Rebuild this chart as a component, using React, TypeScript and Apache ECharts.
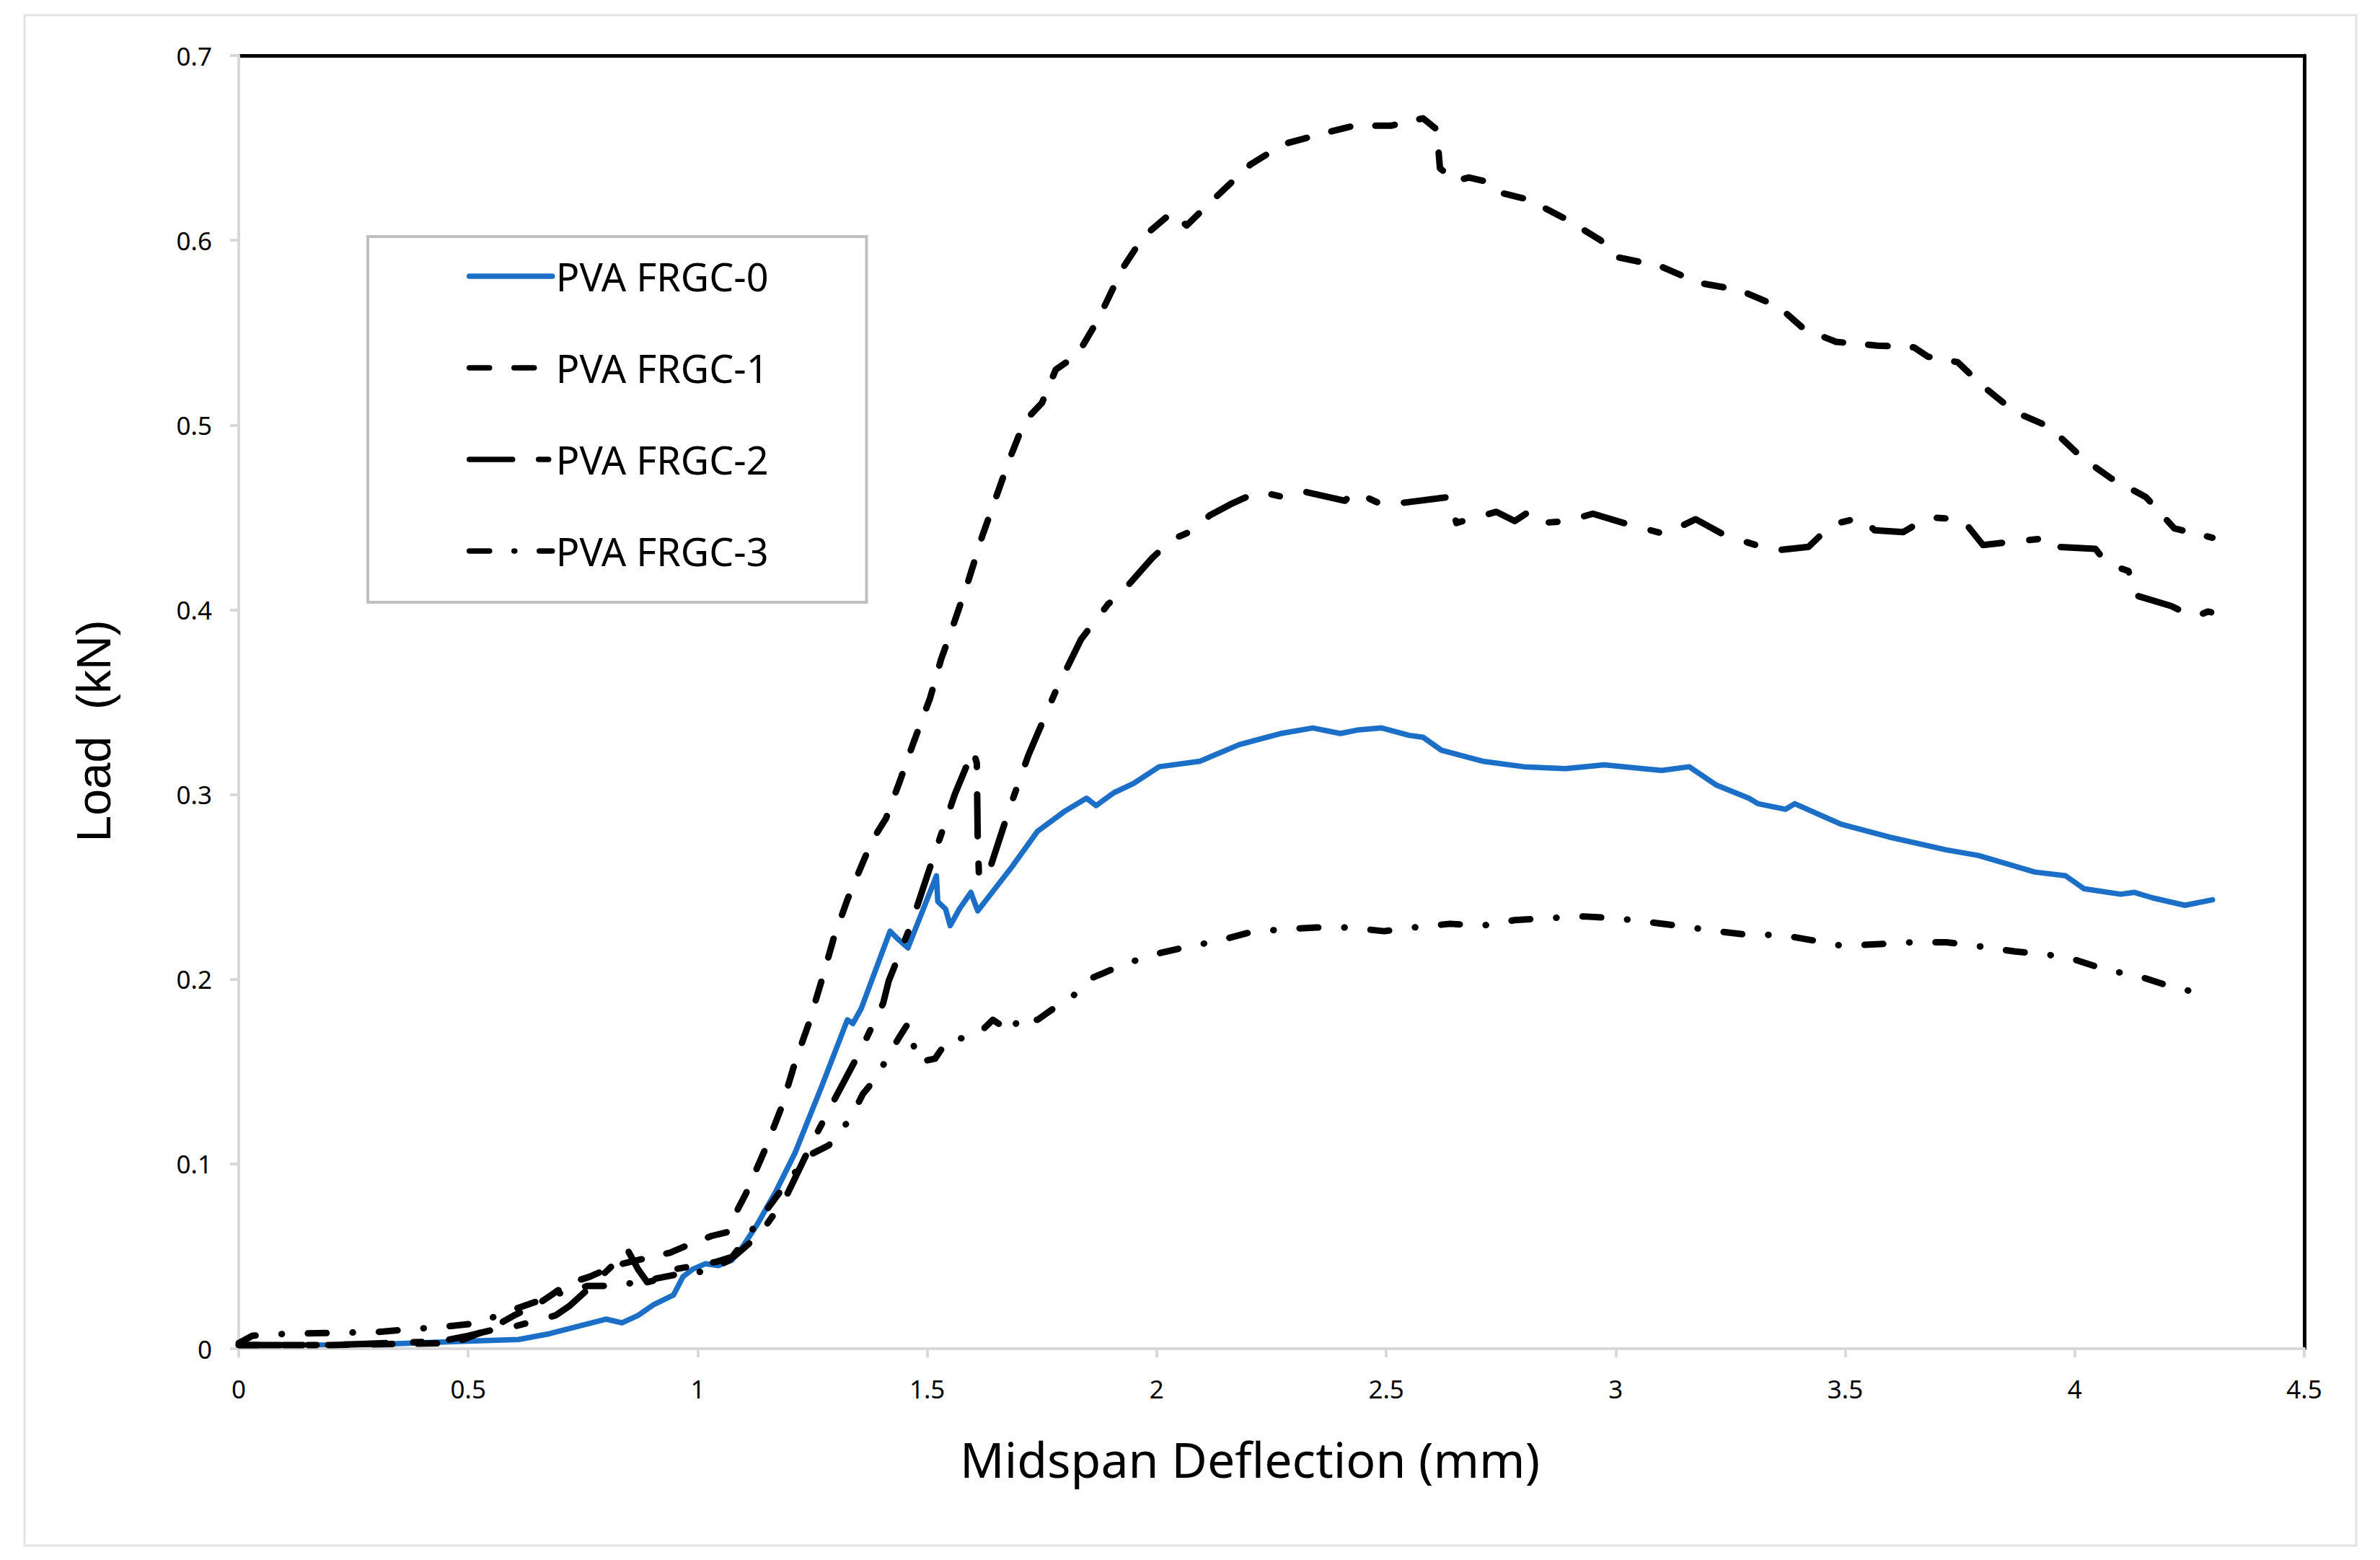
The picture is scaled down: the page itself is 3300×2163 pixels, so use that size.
import React, { useEffect, useRef } from "react";
import * as echarts from "echarts";

const seriesNames = ["PVA FRGC-0", "PVA FRGC-1", "PVA FRGC-2", "PVA FRGC-3"];
const xTicks = { min: 0, max: 4.5, interval: 0.5 };
const yTicks = { min: 0, max: 0.7, interval: 0.1 };

const frgc0: [number, number][] = [
  [0, 0.002], [0.26, 0.002], [0.49, 0.004], [0.61, 0.005], [0.675, 0.008], [0.737, 0.012], [0.8, 0.016],
  [0.835, 0.014], [0.87, 0.018], [0.905, 0.024], [0.947, 0.029], [0.968, 0.039], [0.989, 0.043], [1.017, 0.046],
  [1.045, 0.045], [1.075, 0.048], [1.1, 0.056], [1.129, 0.067], [1.17, 0.085], [1.212, 0.106], [1.27, 0.142],
  [1.326, 0.178], [1.338, 0.176], [1.356, 0.184], [1.419, 0.226], [1.435, 0.222], [1.458, 0.217], [1.52, 0.256],
  [1.523, 0.242], [1.54, 0.238], [1.55, 0.229], [1.57, 0.238], [1.595, 0.247], [1.61, 0.237], [1.685, 0.261],
  [1.74, 0.28], [1.8, 0.291], [1.847, 0.298], [1.868, 0.294], [1.907, 0.301], [1.95, 0.306], [2.005, 0.315],
  [2.094, 0.318], [2.18, 0.327], [2.27, 0.333], [2.34, 0.336], [2.4, 0.333], [2.44, 0.335], [2.49, 0.336],
  [2.55, 0.332], [2.58, 0.331], [2.62, 0.324], [2.71, 0.318], [2.8, 0.315], [2.89, 0.314], [2.975, 0.316],
  [3.1, 0.313], [3.16, 0.315], [3.22, 0.305], [3.29, 0.298], [3.31, 0.295], [3.37, 0.292], [3.39, 0.295],
  [3.49, 0.284], [3.595, 0.277], [3.72, 0.27], [3.79, 0.267], [3.913, 0.258], [3.98, 0.256], [4.02, 0.249],
  [4.1, 0.246], [4.13, 0.247], [4.17, 0.244], [4.24, 0.24], [4.3, 0.243],
];

const frgc1: [number, number][] = [
  [0, 0.002], [0.2, 0.002], [0.45, 0.003], [0.49, 0.005], [0.55, 0.011], [0.6, 0.018], [0.657, 0.025],
  [0.716, 0.035], [0.765, 0.039], [0.82, 0.045], [0.888, 0.049], [0.94, 0.052], [0.978, 0.056], [1.03, 0.061],
  [1.063, 0.063], [1.08, 0.072], [1.105, 0.084], [1.147, 0.108], [1.183, 0.131], [1.212, 0.155], [1.242, 0.176],
  [1.272, 0.201], [1.296, 0.222], [1.326, 0.243], [1.356, 0.261], [1.38, 0.275], [1.41, 0.287], [1.44, 0.307],
  [1.47, 0.328], [1.506, 0.352], [1.53, 0.373], [1.56, 0.394], [1.59, 0.416], [1.62, 0.44], [1.65, 0.461],
  [1.68, 0.482], [1.712, 0.502], [1.75, 0.512], [1.78, 0.53], [1.827, 0.538], [1.872, 0.557], [1.926, 0.585],
  [1.971, 0.602], [2.033, 0.615], [2.065, 0.608], [2.123, 0.622], [2.204, 0.641], [2.276, 0.652], [2.365, 0.658],
  [2.43, 0.662], [2.51, 0.662], [2.58, 0.666], [2.61, 0.66], [2.617, 0.639], [2.65, 0.632], [2.68, 0.634],
  [2.715, 0.632], [2.745, 0.626], [2.81, 0.622], [2.895, 0.611], [2.967, 0.6], [3.0, 0.591], [3.097, 0.586],
  [3.18, 0.577], [3.27, 0.573], [3.355, 0.564], [3.41, 0.552], [3.48, 0.545], [3.57, 0.543], [3.65, 0.542],
  [3.68, 0.537], [3.745, 0.534], [3.8, 0.521], [3.87, 0.507], [3.945, 0.499], [4.017, 0.482], [4.08, 0.471],
  [4.155, 0.461], [4.217, 0.444], [4.283, 0.44], [4.3, 0.439],
];

const frgc2: [number, number][] = [
  [0, 0.002], [0.2, 0.002], [0.44, 0.004], [0.5, 0.007], [0.55, 0.01], [0.6, 0.012], [0.69, 0.018],
  [0.72, 0.023], [0.76, 0.032], [0.81, 0.044], [0.846, 0.054], [0.87, 0.043], [0.89, 0.036], [0.92, 0.038],
  [0.95, 0.043], [1.04, 0.047], [1.08, 0.05], [1.135, 0.062], [1.19, 0.081], [1.248, 0.111], [1.296, 0.134],
  [1.356, 0.162], [1.404, 0.187], [1.416, 0.199], [1.464, 0.229], [1.512, 0.265], [1.56, 0.3], [1.6, 0.324],
  [1.608, 0.317], [1.61, 0.275], [1.613, 0.254], [1.638, 0.261], [1.68, 0.293], [1.72, 0.321], [1.78, 0.356],
  [1.835, 0.384], [1.894, 0.403], [1.926, 0.41], [1.99, 0.428], [2.033, 0.438], [2.08, 0.443], [2.115, 0.451],
  [2.16, 0.457], [2.222, 0.464], [2.276, 0.461], [2.32, 0.464], [2.41, 0.459], [2.43, 0.464], [2.49, 0.457],
  [2.54, 0.458], [2.635, 0.461], [2.653, 0.447], [2.74, 0.453], [2.78, 0.448], [2.81, 0.453], [2.84, 0.447],
  [2.895, 0.448], [2.95, 0.452], [3.03, 0.446], [3.107, 0.441], [3.174, 0.449], [3.24, 0.44], [3.345, 0.432],
  [3.42, 0.434], [3.47, 0.446], [3.535, 0.45], [3.564, 0.443], [3.626, 0.442], [3.68, 0.45], [3.755, 0.449],
  [3.8, 0.435], [3.87, 0.437], [3.95, 0.439], [3.965, 0.434], [4.045, 0.433], [4.07, 0.425], [4.117, 0.421],
  [4.13, 0.408], [4.21, 0.402], [4.26, 0.396], [4.29, 0.399], [4.31, 0.398],
];

const frgc3: [number, number][] = [
  [0, 0.003], [0.03, 0.007], [0.1, 0.008], [0.3, 0.009], [0.45, 0.012], [0.53, 0.014], [0.57, 0.019],
  [0.62, 0.023], [0.7, 0.03], [0.76, 0.034], [0.814, 0.034], [0.87, 0.036], [0.95, 0.04], [1.02, 0.042],
  [1.07, 0.048], [1.1, 0.058], [1.15, 0.075], [1.2, 0.092], [1.245, 0.105], [1.285, 0.11], [1.31, 0.117],
  [1.338, 0.127], [1.36, 0.138], [1.39, 0.147], [1.416, 0.159], [1.44, 0.169], [1.458, 0.176], [1.48, 0.155],
  [1.517, 0.157], [1.547, 0.168], [1.578, 0.168], [1.614, 0.171], [1.643, 0.178], [1.685, 0.171], [1.7, 0.18],
  [1.74, 0.178], [1.78, 0.185], [1.823, 0.192], [1.862, 0.201], [1.933, 0.2085], [2.004, 0.214], [2.074, 0.218],
  [2.13, 0.2205], [2.198, 0.225], [2.27, 0.227], [2.348, 0.228], [2.42, 0.228], [2.495, 0.226], [2.56, 0.228],
  [2.639, 0.23], [2.71, 0.229], [2.78, 0.232], [2.85, 0.233], [2.93, 0.234], [3.0, 0.233], [3.07, 0.231],
  [3.15, 0.2285], [3.22, 0.226], [3.29, 0.224], [3.36, 0.224], [3.43, 0.221], [3.495, 0.218], [3.575, 0.219],
  [3.646, 0.22], [3.72, 0.22], [3.787, 0.218], [3.87, 0.215], [3.937, 0.2135], [4.0, 0.2106], [4.07, 0.205],
  [4.14, 0.2016], [4.21, 0.196], [4.28, 0.192], [4.29, 0.19],
];

const FONT = "'Noto Sans', 'Open Sans', sans-serif";
const GRAY = "#d9d9d9";

export default function App() {
  const ref = useRef<HTMLDivElement>(null);

  useEffect(() => {
    if (!ref.current) return;
    const chart = echarts.init(ref.current, null, { renderer: "svg" });

    const lineStyles: any[] = [
      { color: "#1b6fc6", width: 7.5, type: "solid", cap: "round", join: "round" },
      { color: "#000000", width: 9, type: [27, 35], cap: "round", join: "round" },
      { color: "#000000", width: 9, type: [58, 38, 12, 38], cap: "round", join: "round" },
      { color: "#000000", width: 9, type: [26, 36, 0.5, 36], cap: "round", join: "round" },
    ];
    const legendDash: any[] = ["solid", [28, 34], [60, 36, 14, 36], [28, 34, 1, 34]];
    const datasets = [frgc0, frgc1, frgc2, frgc3];

    const option: any = {
      animation: false,
      backgroundColor: "#ffffff",
      graphic: [
        {
          type: "rect",
          shape: { x: 34, y: 21, width: 3233, height: 2122 },
          style: { fill: "none", stroke: "#e3e3e3", lineWidth: 3 },
          silent: true,
          z: -1,
        },
      ],
      grid: { left: 331, right: 105, top: 77, bottom: 293, show: false },
      legend: {
        orient: "vertical",
        left: 510,
        top: 328,
        padding: [25, 136, 41, 137],
        itemWidth: 115,
        itemHeight: 60,
        itemGap: 67,
        borderColor: "#bfbfbf",
        borderWidth: 4,
        backgroundColor: "#ffffff",
        data: seriesNames.map((name, i) => ({
          name,
          lineStyle: {
            color: lineStyles[i].color,
            width: 7.5,
            type: legendDash[i],
            cap: "round",
          },
          itemStyle: { color: "transparent", borderColor: "transparent", borderWidth: 0, opacity: 0 },
        })),
        itemStyle: { color: "transparent", borderColor: "transparent", borderWidth: 0, opacity: 0 },
        textStyle: { fontFamily: FONT, fontSize: 54, color: "#000", lineHeight: 60 },
      },
      xAxis: [
        {
          type: "value",
          position: "bottom",
          min: xTicks.min,
          max: xTicks.max,
          interval: xTicks.interval,
          z: 3,
          axisLine: { show: true, onZero: false, lineStyle: { color: GRAY, width: 4 } },
          axisTick: { show: true, inside: false, length: 12, lineStyle: { color: GRAY, width: 4 } },
          splitLine: { show: false },
          axisLabel: { color: "#000", fontFamily: FONT, fontSize: 35, margin: 38 },
          name: "Midspan Deflection (mm)",
          nameLocation: "middle",
          nameGap: 118,
          nameTextStyle: { color: "#000", fontFamily: FONT, fontSize: 68, padding: [0, 60, 0, 0] },
        },
        {
          type: "value",
          position: "top",
          min: xTicks.min,
          max: xTicks.max,
          interval: xTicks.interval,
          z: 1,
          axisLine: { show: true, onZero: false, lineStyle: { color: "#000", width: 5 } },
          axisTick: { show: false },
          axisLabel: { show: false },
          splitLine: { show: false },
        },
      ],
      yAxis: [
        {
          type: "value",
          position: "left",
          min: yTicks.min,
          max: yTicks.max,
          interval: yTicks.interval,
          z: 3,
          axisLine: { show: true, onZero: false, lineStyle: { color: GRAY, width: 4 } },
          axisTick: { show: true, inside: false, length: 12, lineStyle: { color: GRAY, width: 4 } },
          splitLine: { show: false },
          axisLabel: { color: "#000", fontFamily: FONT, fontSize: 35, margin: 37 },
          name: "Load  (kN)",
          nameLocation: "middle",
          nameGap: 168,
          nameTextStyle: {
            color: "#000",
            fontFamily: "'Liberation Sans', Arial, sans-serif",
            fontSize: 66,
            padding: [0, 80, 0, 0],
          },
        },
        {
          type: "value",
          position: "right",
          min: yTicks.min,
          max: yTicks.max,
          interval: yTicks.interval,
          z: 1,
          axisLine: { show: true, onZero: false, lineStyle: { color: "#000", width: 5 } },
          axisTick: { show: false },
          axisLabel: { show: false },
          splitLine: { show: false },
        },
      ],
      series: seriesNames.map((name, i) => ({
        name,
        type: "line",
        xAxisIndex: 0,
        yAxisIndex: 0,
        data: datasets[i],
        showSymbol: false,
        symbol: "none",
        smooth: false,
        lineStyle: lineStyles[i],
        itemStyle: { color: lineStyles[i].color },
        z: 2 + i,
      })),
    };

    chart.setOption(option);
    return () => chart.dispose();
  }, []);

  return (
    <div
      ref={ref}
      style={{ position: "absolute", left: 0, top: 0, width: 3300, height: 2163, background: "#fff" }}
    />
  );
}
